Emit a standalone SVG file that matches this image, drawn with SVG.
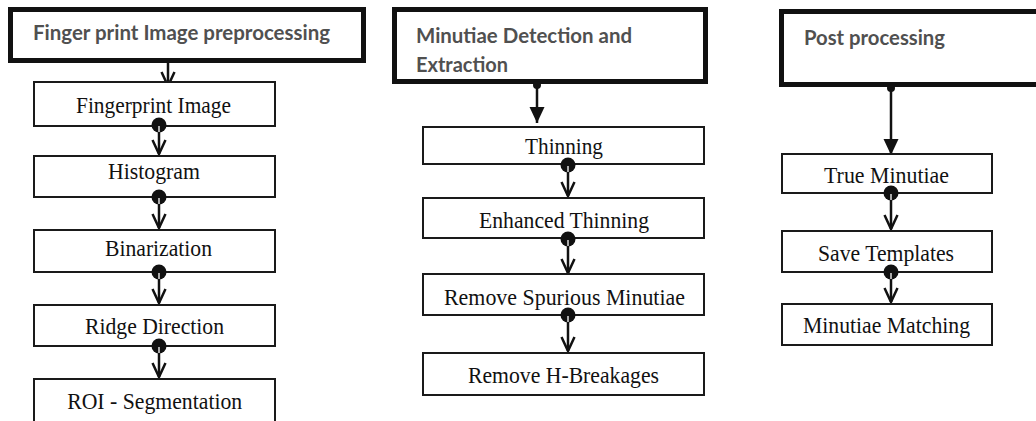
<svg xmlns="http://www.w3.org/2000/svg" width="1036" height="421" viewBox="0 0 1036 421">
<style>
.hdr{fill:#fff;stroke:#111;stroke-width:5}
.box{fill:#fff;stroke:#1a1a1a;stroke-width:2}
.ht{font-family:Lato,"Open Sans",sans-serif;font-weight:bold;font-size:20.5px;fill:#505050}
.bt{font-family:"Liberation Serif","Times New Roman",serif;font-size:23px;fill:#111;text-anchor:middle}
.ln{stroke:#111;stroke-width:2.5;fill:none}
.ch{marker-end:url(#chev)}
.tr{marker-end:url(#tri)}
.dot{fill:#111}
.core{stroke:#fff;stroke-width:1.3}
</style>
<defs>
<marker id="chev" markerUnits="userSpaceOnUse" viewBox="0 0 17 16" refX="15" refY="8" markerWidth="17" markerHeight="16" orient="auto" overflow="visible">
<path d="M1,1.5 L15,8 L1,14.5" fill="none" stroke="#111" stroke-width="2.5"/>
</marker>
<marker id="tri" markerUnits="userSpaceOnUse" viewBox="0 0 16 16" refX="16" refY="8" markerWidth="16" markerHeight="16" orient="auto" overflow="visible">
<path d="M0,0.5 L16,8 L0,15.5 z" fill="#111"/>
</marker>
</defs>
<rect width="1036" height="421" fill="#fff"/>

<g id="connectors">
<line class="ln ch" x1="168" y1="63" x2="168" y2="86"/>
<line class="ln ch" x1="159" y1="126" x2="159" y2="154"/>
<line class="ln ch" x1="159" y1="197" x2="159" y2="228"/>
<line class="ln ch" x1="159" y1="272" x2="159" y2="303"/>
<line class="ln ch" x1="159" y1="346" x2="159" y2="377"/>

<line class="ln tr" x1="537" y1="84" x2="537" y2="123"/>
<line class="ln ch" x1="568" y1="165" x2="568" y2="196"/>
<line class="ln ch" x1="568" y1="239" x2="568" y2="273"/>
<line class="ln ch" x1="568" y1="315" x2="568" y2="351"/>

<line class="ln tr" x1="891" y1="87" x2="891" y2="155"/>
<line class="ln ch" x1="891" y1="193" x2="891" y2="229"/>
<line class="ln ch" x1="891" y1="272" x2="891" y2="302"/>
</g>

<g id="header-preprocessing">
<rect class="hdr" x="10.5" y="9.5" width="353" height="51"/>
<text class="ht" x="33" y="40" textLength="297" lengthAdjust="spacingAndGlyphs">Finger print Image preprocessing</text>
</g>
<g id="header-minutiae">
<rect class="hdr" x="394.5" y="9.5" width="311" height="72"/>
<text class="ht" x="416" y="43" textLength="216" lengthAdjust="spacingAndGlyphs">Minutiae Detection and</text>
<text class="ht" x="416" y="72" textLength="92" lengthAdjust="spacingAndGlyphs">Extraction</text>
</g>
<g id="header-post">
<rect class="hdr" x="781.5" y="11.5" width="270" height="73"/>
<text class="ht" x="804" y="45" textLength="141" lengthAdjust="spacingAndGlyphs">Post processing</text>
</g>

<g id="fingerprint-image">
<rect class="box" x="34" y="82" width="241" height="44"/>
<text class="bt" x="153.5" y="113" textLength="155" lengthAdjust="spacingAndGlyphs">Fingerprint Image</text>
</g>
<g id="histogram">
<rect class="box" x="34" y="156" width="241" height="41"/>
<text class="bt" x="154" y="179" textLength="92" lengthAdjust="spacingAndGlyphs">Histogram</text>
</g>
<g id="binarization">
<rect class="box" x="34" y="230" width="241" height="42"/>
<text class="bt" x="158.5" y="256" textLength="107" lengthAdjust="spacingAndGlyphs">Binarization</text>
</g>
<g id="ridge-direction">
<rect class="box" x="34" y="305" width="241" height="41"/>
<text class="bt" x="154.5" y="334" textLength="139" lengthAdjust="spacingAndGlyphs">Ridge Direction</text>
</g>
<g id="roi-segmentation">
<rect class="box" x="34" y="379" width="241" height="60"/>
<text class="bt" x="154.7" y="409" textLength="175" lengthAdjust="spacingAndGlyphs">ROI - Segmentation</text>
</g>

<g id="thinning">
<rect class="box" x="423" y="127" width="281" height="37"/>
<text class="bt" x="564" y="154" textLength="78" lengthAdjust="spacingAndGlyphs">Thinning</text>
</g>
<g id="enhanced-thinning">
<rect class="box" x="423" y="198" width="281" height="40"/>
<text class="bt" x="564" y="228" textLength="170" lengthAdjust="spacingAndGlyphs">Enhanced Thinning</text>
</g>
<g id="remove-spurious">
<rect class="box" x="423" y="274" width="281" height="41"/>
<text class="bt" x="564.5" y="305" textLength="241" lengthAdjust="spacingAndGlyphs">Remove Spurious Minutiae</text>
</g>
<g id="remove-h-breakages">
<rect class="box" x="423" y="353" width="281" height="42"/>
<text class="bt" x="563.5" y="383" textLength="191" lengthAdjust="spacingAndGlyphs">Remove H-Breakages</text>
</g>

<g id="true-minutiae">
<rect class="box" x="782" y="154" width="210" height="39"/>
<text class="bt" x="886.5" y="183" textLength="125" lengthAdjust="spacingAndGlyphs">True Minutiae</text>
</g>
<g id="save-templates">
<rect class="box" x="782" y="231" width="210" height="41"/>
<text class="bt" x="886" y="261" textLength="136" lengthAdjust="spacingAndGlyphs">Save Templates</text>
</g>
<g id="minutiae-matching">
<rect class="box" x="782" y="304" width="210" height="41"/>
<text class="bt" x="886.5" y="333" textLength="167" lengthAdjust="spacingAndGlyphs">Minutiae Matching</text>
</g>

<g id="connector-dots">
<circle class="dot" cx="159" cy="125" r="7.5"/>
<circle class="dot" cx="159" cy="197" r="7.5"/>
<circle class="dot" cx="159" cy="272" r="7.5"/>
<circle class="dot" cx="159" cy="346" r="7.5"/>
<circle class="dot" cx="568" cy="165" r="7.5"/>
<circle class="dot" cx="568" cy="239" r="7.5"/>
<circle class="dot" cx="568" cy="315" r="7.5"/>
<circle class="dot" cx="891" cy="193" r="7.5"/>
<circle class="dot" cx="891" cy="272" r="7.5"/>
<circle class="dot" cx="537" cy="85" r="4"/>
<circle class="dot" cx="891" cy="88" r="4"/>
<line class="core" x1="159" y1="126" x2="159" y2="132"/>
<line class="core" x1="159" y1="198" x2="159" y2="204"/>
<line class="core" x1="159" y1="273" x2="159" y2="279"/>
<line class="core" x1="159" y1="347" x2="159" y2="353"/>
<line class="core" x1="568" y1="166" x2="568" y2="172"/>
<line class="core" x1="568" y1="240" x2="568" y2="246"/>
<line class="core" x1="568" y1="316" x2="568" y2="322"/>
<line class="core" x1="891" y1="194" x2="891" y2="200"/>
<line class="core" x1="891" y1="273" x2="891" y2="279"/>
</g>
</svg>
